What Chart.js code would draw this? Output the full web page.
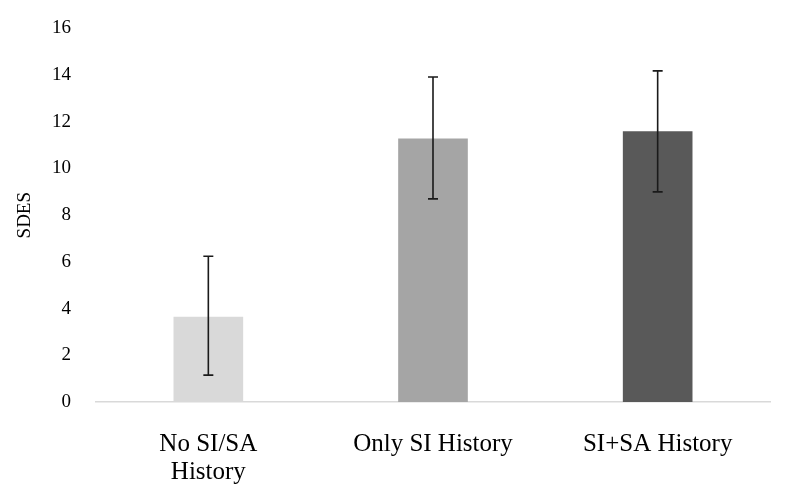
<!DOCTYPE html>
<html>
<head>
<meta charset="utf-8">
<script src="https://cdn.jsdelivr.net/npm/chart.js@4"></script>
<style>
    html, body { margin: 0; padding: 0; background: #fff; }
    #wrap { width: 787px; height: 500px; }
</style>
</head>
<body>
<div id="wrap"><canvas id="sdesChart" width="787" height="500"></canvas></div>
<script>
const categories = [['No SI/SA', 'History'], 'Only SI History', 'SI+SA History'];
const means = [3.65, 11.29, 11.59];
const errLow = [1.15, 8.70, 9.00];
const errHigh = [6.24, 13.92, 14.18];
const yTicks = [0, 2, 4, 6, 8, 10, 12, 14, 16];
const barColors = ['#d9d9d9', '#a5a5a5', '#595959'];

const serif = "'Liberation Serif', 'Times New Roman', serif";

// draws the whiskers from errLow/errHigh using the chart's own scales
const errorBars = {
    id: 'errorBars',
    afterDatasetsDraw(chart) {
        const { ctx, scales: { x, y } } = chart;
        ctx.save();
        ctx.strokeStyle = '#1a1a1a';
        ctx.lineWidth = 1.6;
        means.forEach((m, i) => {
            const cx = x.getPixelForValue(i);
            const top = y.getPixelForValue(errHigh[i]);
            const bot = y.getPixelForValue(errLow[i]);
            ctx.beginPath();
            ctx.moveTo(cx, top);
            ctx.lineTo(cx, bot);
            ctx.moveTo(cx - 5, top);
            ctx.lineTo(cx + 5, top);
            ctx.moveTo(cx - 5, bot);
            ctx.lineTo(cx + 5, bot);
            ctx.stroke();
        });
        ctx.restore();
    }
};

new Chart(document.getElementById('sdesChart').getContext('2d'), {
    type: 'bar',
    data: {
        labels: categories,
        datasets: [{
            data: means,
            backgroundColor: barColors,
            borderWidth: 0,
            categoryPercentage: 1,
            barPercentage: 0.31
        }]
    },
    options: {
        responsive: false,
        animation: false,
        layout: { padding: { top: 14, right: 17, bottom: 0, left: 0 } },
        plugins: {
            legend: { display: false },
            tooltip: { enabled: false }
        },
        scales: {
            x: {
                afterFit: (scale) => {
                    scale.height = 98;
                },
                grid: { display: false },
                border: { display: true, color: '#d9d9d9', width: 1.5 },
                ticks: {
                    color: '#000',
                    padding: 20,
                    maxRotation: 0,
                    font: { family: serif, size: 25, lineHeight: 1.12 }
                }
            },
            y: {
                min: 0,
                max: 16,
                afterBuildTicks: (scale) => {
                    scale.ticks = yTicks.map(v => ({ value: v }));
                },
                afterFit: (scale) => {
                    scale.width = 96;
                },
                grid: { display: false },
                border: { display: false },
                ticks: {
                    color: '#000',
                    padding: 17,
                    font: { family: serif, size: 19 }
                },
                title: {
                    display: true,
                    text: 'SDES',
                    color: '#000',
                    padding: { top: 14, bottom: 0 },
                    font: { family: serif, size: 19 }
                }
            }
        }
    },
    plugins: [errorBars]
});
</script>
</body>
</html>
